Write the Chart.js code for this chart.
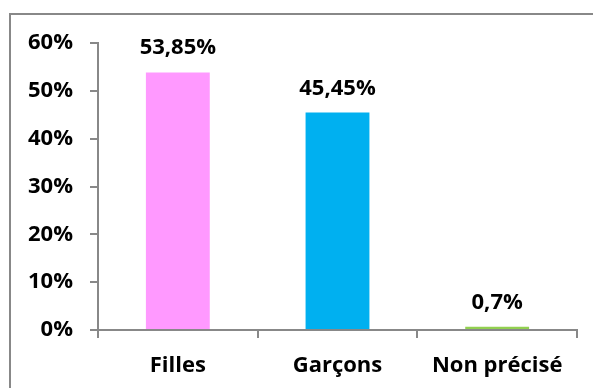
<!DOCTYPE html>
<html>
<head>
<meta charset="utf-8">
<script src="https://cdn.jsdelivr.net/npm/chart.js@4"></script>
<style>
  html, body { margin: 0; padding: 0; background: #fff; }
  #wrap { position: relative; width: 593px; height: 388px; overflow: hidden; }
  #frame { position: absolute; left: 9px; top: 13px; width: 590px; height: 400px;
           border: 2px solid #888; box-sizing: border-box; }
  canvas { position: absolute; left: 0; top: 0; }
</style>
</head>
<body>
<div id="wrap">
  <div id="frame"></div>
  <canvas id="c" width="593" height="388"></canvas>
</div>
<script>
// données
const categories = ["Filles", "Garçons", "Non précisé"];
const valeurs    = [53.85, 45.45, 0.7];
const etiquettes = ["53,85%", "45,45%", "0,7%"];
const couleurs   = ["#FF99FF", "#00B0F0", "#92D050"];
const yTicks     = [0, 10, 20, 30, 40, 50, 60];

const FONT = { family: "'Open Sans', sans-serif", size: 22, weight: "bold" };
const AXE  = "#888888";

// étiquettes au-dessus des barres
const labelsPlugin = {
  id: "barLabels",
  afterDatasetsDraw(chart) {
    const ctx = chart.ctx;
    const meta = chart.getDatasetMeta(0);
    ctx.save();
    ctx.font = `bold ${FONT.size}px ${FONT.family}`;
    ctx.fillStyle = "#000";
    ctx.textAlign = "center";
    ctx.textBaseline = "alphabetic";
    meta.data.forEach((bar, i) => {
      ctx.fillText(etiquettes[i], bar.x, bar.y - 18);
    });
    ctx.restore();
  },
};

new Chart(document.getElementById("c"), {
  type: "bar",
  data: {
    labels: categories,
    datasets: [{
      data: valeurs,
      backgroundColor: couleurs,
      borderWidth: 0,
      categoryPercentage: 0.4,
      barPercentage: 1.0,
    }],
  },
  options: {
    responsive: false,
    animation: false,
    devicePixelRatio: 1,
    layout: { padding: { top: 43, right: 16, left: 0, bottom: 0 } },
    plugins: { legend: { display: false }, tooltip: { enabled: false } },
    scales: {
      x: {
        afterFit: (s) => { s.height = 58; },
        border: { color: AXE, width: 2 },
        grid: { drawOnChartArea: false, color: AXE, tickLength: 8, lineWidth: 2 },
        ticks: { color: "#000", font: FONT, padding: 15 },
      },
      y: {
        min: yTicks[0],
        max: yTicks[yTicks.length - 1],
        afterFit: (s) => { s.width = 98; },
        afterBuildTicks: (s) => { s.ticks = yTicks.map((v) => ({ value: v })); },
        border: { color: AXE, width: 2 },
        grid: { drawOnChartArea: false, color: AXE, tickLength: 8, lineWidth: 2 },
        ticks: { color: "#000", font: FONT, padding: 17, callback: (v) => v + "%" },
      },
    },
  },
  plugins: [labelsPlugin],
});
</script>
</body>
</html>
